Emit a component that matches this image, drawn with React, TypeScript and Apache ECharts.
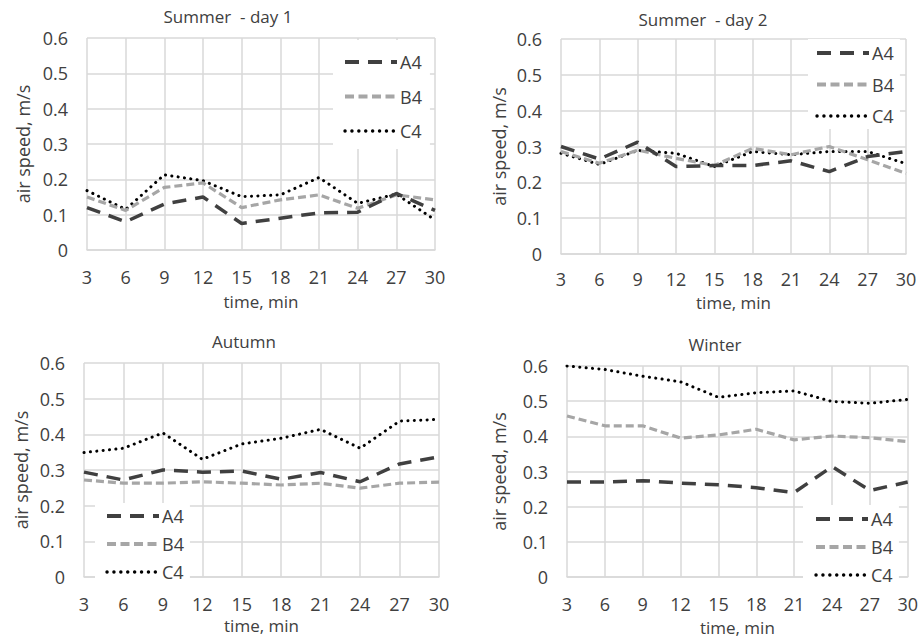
import React, { useEffect, useRef } from "react";
import * as echarts from "echarts";

const categories = ["3", "6", "9", "12", "15", "18", "21", "24", "27", "30"];
const yTicks = [0, 0.1, 0.2, 0.3, 0.4, 0.5, 0.6];
const seriesNames = ["A4", "B4", "C4"];
const panelTitles = ["Summer  - day 1", "Summer  - day 2", "Autumn", "Winter"];

const summer1A4 = [0.12, 0.08, 0.13, 0.15, 0.075, 0.09, 0.105, 0.107, 0.16, 0.112];
const summer1B4 = [0.15, 0.112, 0.177, 0.19, 0.12, 0.142, 0.156, 0.118, 0.156, 0.142];
const summer1C4 = [0.168, 0.115, 0.213, 0.196, 0.151, 0.156, 0.205, 0.132, 0.158, 0.085];

const summer2A4 = [0.3, 0.265, 0.312, 0.244, 0.247, 0.247, 0.26, 0.23, 0.272, 0.286];
const summer2B4 = [0.286, 0.253, 0.29, 0.267, 0.247, 0.295, 0.277, 0.3, 0.263, 0.225];
const summer2C4 = [0.281, 0.25, 0.289, 0.281, 0.244, 0.286, 0.277, 0.286, 0.286, 0.252];

const autumnA4 = [0.294, 0.272, 0.3, 0.294, 0.297, 0.274, 0.293, 0.267, 0.317, 0.337];
const autumnB4 = [0.272, 0.263, 0.263, 0.267, 0.263, 0.258, 0.263, 0.249, 0.263, 0.266];
const autumnC4 = [0.349, 0.361, 0.404, 0.33, 0.373, 0.389, 0.414, 0.361, 0.437, 0.442];

const winterA4 = [0.27, 0.27, 0.274, 0.267, 0.262, 0.254, 0.24, 0.314, 0.246, 0.27];
const winterB4 = [0.458, 0.43, 0.43, 0.395, 0.404, 0.42, 0.39, 0.401, 0.396, 0.385];
const winterC4 = [0.6, 0.59, 0.571, 0.555, 0.511, 0.524, 0.529, 0.499, 0.494, 0.505];

const panelData = [
  [summer1A4, summer1B4, summer1C4],
  [summer2A4, summer2B4, summer2C4],
  [autumnA4, autumnB4, autumnC4],
  [winterA4, winterB4, winterC4],
];

const FONT = "Open Sans";
const TEXT = "#404040";
const GRIDC = "#d9d9d9";

const grids = [
  { left: 87, top: 38, width: 348, height: 212 },
  { left: 561, top: 39, width: 345, height: 215 },
  { left: 84, top: 363, width: 355, height: 214 },
  { left: 567, top: 366, width: 341, height: 211 },
];
const yNameGaps = [54, 52, 53, 58];
const xNameGaps = [43, 40, 40, 42];
const xLabelMargins = [18, 16, 18, 18];
const titlePos = [
  [228, 8],
  [703, 11],
  [244, 333],
  [715, 336],
];
const legendPos = [
  { left: 333, top: 40, padding: [13, 8, 9, 10], itemGap: 16.5 },
  { left: 808, top: 39, padding: [5, 6, 4, 7], itemGap: 13.5 },
  { left: 95, top: 503, padding: [4, 6, 4, 10], itemGap: 10 },
  { left: 803, top: 505, padding: [5, 6, 4, 11], itemGap: 10 },
];

const lineStyles = [
  { color: "#404040", width: 3.5, type: [14, 9], cap: "butt" },
  { color: "#a6a6a6", width: 3.2, type: [8, 4], cap: "butt" },
  { color: "#000000", width: 3, type: [0.1, 6.3], cap: "round" },
];
const legendLineStyles = [
  { color: "#404040", width: 4, type: [14, 9], cap: "butt" },
  { color: "#a6a6a6", width: 4, type: [9, 4.5], cap: "butt" },
  { color: "#000000", width: 3.4, type: [0.1, 6.8], cap: "round" },
];

export default function App() {
  const ref = useRef<HTMLDivElement>(null);
  useEffect(() => {
    if (!ref.current) return;
    const chart = echarts.init(ref.current, undefined, { renderer: "svg" });
    const option: any = {
      animation: false,
      backgroundColor: "#ffffff",
      title: panelTitles.map((t, i) => ({
        text: t,
        left: titlePos[i][0],
        top: titlePos[i][1],
        textAlign: "center",
        padding: 0,
        textStyle: { fontFamily: FONT, fontSize: 17, fontWeight: "normal", color: TEXT },
      })),
      grid: grids.map((g) => ({ ...g, containLabel: false })),
      legend: legendPos.map((l) => ({
        orient: "vertical",
        left: l.left,
        top: l.top,
        padding: l.padding,
        itemGap: l.itemGap,
        itemWidth: 52,
        itemHeight: 14,
        backgroundColor: "#ffffff",
        data: seriesNames.map((n, j) => ({
          name: n,
          itemStyle: { opacity: 0, borderWidth: 0 },
          lineStyle: legendLineStyles[j],
        })),
        itemStyle: { opacity: 0, borderWidth: 0 },
        textStyle: { fontFamily: FONT, fontSize: 18, color: TEXT, padding: [0, 0, 0, -2] },
        selectedMode: false,
      })),
      xAxis: grids.map((_, i) => ({
        type: "category",
        gridIndex: i,
        data: categories,
        boundaryGap: false,
        name: "time, min",
        nameLocation: "middle",
        nameGap: xNameGaps[i],
        nameTextStyle: { fontFamily: FONT, fontSize: 17, color: TEXT, lineHeight: 17 },
        axisLine: { show: true, lineStyle: { color: GRIDC, width: 1.5 } },
        axisTick: { show: false },
        axisLabel: {
          interval: 0,
          margin: xLabelMargins[i],
          fontFamily: FONT,
          fontSize: 18,
          color: TEXT,
          lineHeight: 18,
        },
        splitLine: { show: true, interval: 0, lineStyle: { color: GRIDC, width: 1.5 } },
      })),
      yAxis: grids.map((_, i) => ({
        type: "value",
        gridIndex: i,
        min: yTicks[0],
        max: yTicks[yTicks.length - 1],
        interval: 0.1,
        name: "air speed, m/s",
        nameLocation: "middle",
        nameGap: yNameGaps[i],
        nameTextStyle: { fontFamily: FONT, fontSize: 18, color: TEXT, lineHeight: 20 },
        axisLine: { show: false },
        axisTick: { show: false },
        axisLabel: {
          margin: 19,
          fontFamily: FONT,
          fontSize: 18,
          color: TEXT,
          formatter: (v: number) => (v === 0 ? "0" : v.toFixed(1)),
        },
        splitLine: { show: true, lineStyle: { color: GRIDC, width: 1.5 } },
      })),
      series: panelData.flatMap((arrs, i) =>
        arrs.map((arr, j) => ({
          type: "line",
          name: seriesNames[j],
          xAxisIndex: i,
          yAxisIndex: i,
          data: arr,
          symbol: "none",
          z: 3 - j,
          lineStyle: lineStyles[j],
          itemStyle: { color: lineStyles[j].color },
        }))
      ),
    };
    chart.setOption(option);
    return () => chart.dispose();
  }, []);
  return (
    <div
      ref={ref}
      style={{ position: "fixed", left: 0, top: 0, width: 921, height: 640, background: "#fff" }}
    />
  );
}
